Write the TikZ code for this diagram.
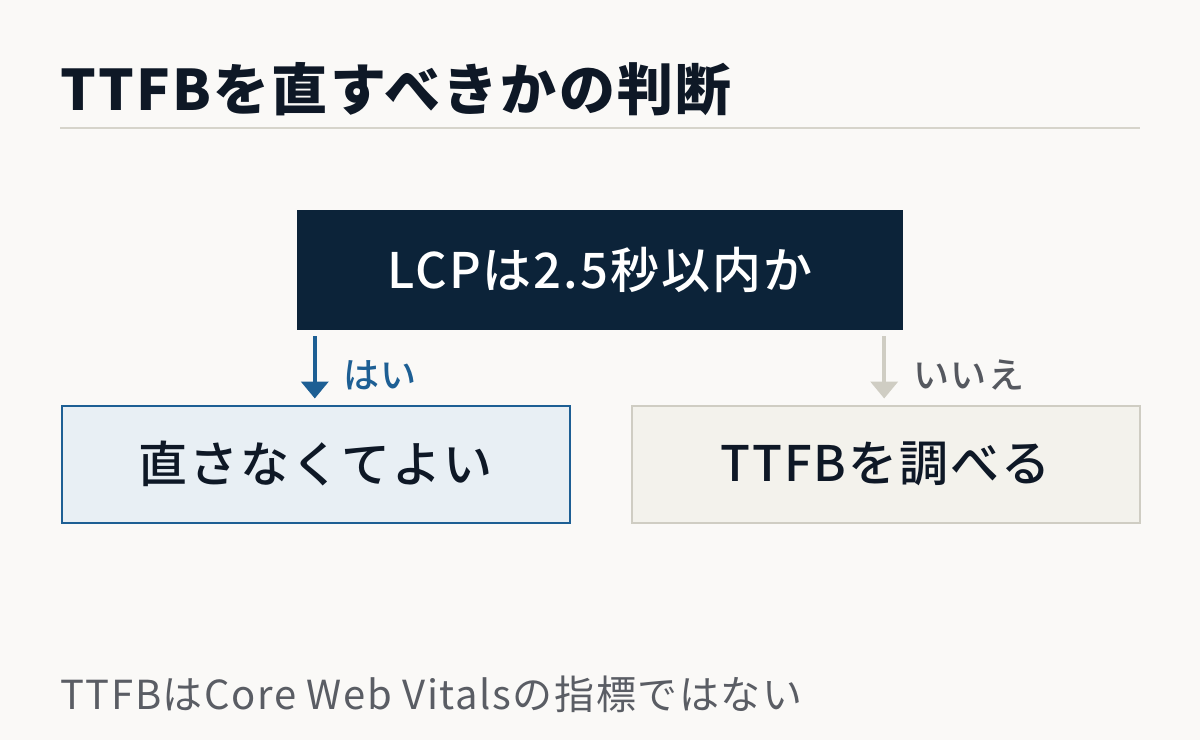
\documentclass[tikz,border=0pt]{standalone}
\usepackage{fontspec}
\setmainfont{Noto Sans CJK JP}[LetterSpace=4]
\newfontfamily\medfont{Noto Sans CJK JP Medium}[LetterSpace=4]
\usetikzlibrary{arrows.meta}
\definecolor{pagebg}{HTML}{FAF9F7}
\definecolor{inkc}{HTML}{0E1826}
\definecolor{navyc}{HTML}{0C2339}
\definecolor{yesc}{HTML}{1D5F94}
\definecolor{nogray}{HTML}{CFCDC3}
\definecolor{notext}{HTML}{55585F}
\colorlet{yesfill}{yesc!10!white}
\definecolor{nofill}{HTML}{F3F2EC}
\definecolor{rulec}{HTML}{D6D4CB}
\definecolor{footc}{HTML}{5A5D64}
\newcommand{\fs}[1]{\fontsize{#1}{#1}\selectfont}
\tikzstyle{question} =[
    fill=navyc,
    text=white,
    font=\medfont\fs{49},
    minimum width=606pt,
    minimum height=120pt,
    inner sep=0pt
    ]
\tikzstyle{answer} =[
    rectangle,
    line width=2pt,
    text=inkc,
    font=\medfont\fs{49},
    minimum width=508pt,
    minimum height=117pt,
    inner sep=0pt
    ]
\tikzstyle{downarrow} =[
    line width=4pt,
    -{Triangle[width=27pt,length=17pt]},
    shorten <=6pt,
    shorten >=6pt
    ]

\begin{document}
\begin{tikzpicture}[x=1pt,y=-1pt]
\fill[pagebg] (0,0) rectangle (1200,740);
\useasboundingbox (0,0) rectangle (1200,740);

% heading
\node[anchor=base west, inner sep=0pt, text=inkc, font=\bfseries\fs{56}] (title) at (60,110) {TTFBを直すべきかの判断};
\draw[rulec, line width=2pt] (60,128) -- (1140,128);

% decision
\node[question] (lcp) at (600,270) {LCPは2.5秒以内か};
\node[answer, draw=yesc, fill=yesfill] (keep) at (315.5,464) {直さなくてよい};
\node[answer, draw=nogray, fill=nofill] (check) at (885.5,464) {TTFBを調べる};

\coordinate (yesfrom) at ([xshift=18pt]lcp.south west);
\coordinate (nofrom) at ([xshift=-19pt]lcp.south east);
\draw[downarrow, yesc] (yesfrom) -- (yesfrom |- keep.north);
\draw[downarrow, nogray] (nofrom) -- (nofrom |- check.north);
\node[anchor=west, inner sep=0pt, text=yesc, font=\medfont\fs{36}] (yes) at (343,375) {はい};
\node[anchor=west, inner sep=0pt, text=notext, font=\medfont\fs{36}] (no) at (913,375) {いいえ};

% note
\node[anchor=base west, inner sep=0pt, text=footc, font=\fs{40}] (note) at (60,709) {TTFBはCore Web Vitalsの指標ではない};
\end{tikzpicture}
\end{document}
